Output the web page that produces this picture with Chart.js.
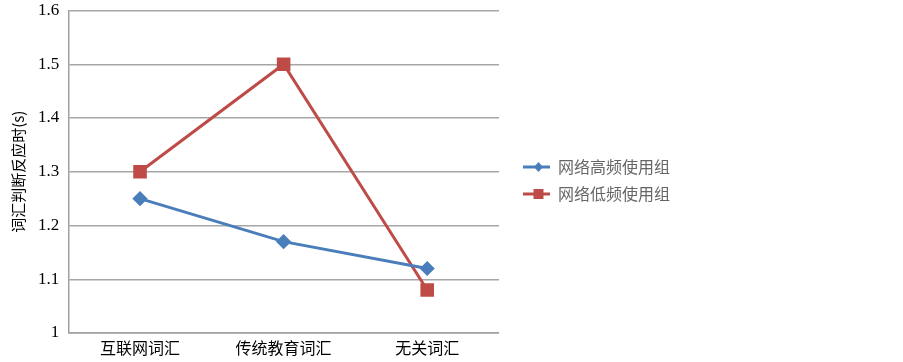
<!DOCTYPE html>
<html><head><meta charset="utf-8">
<script src="https://cdn.jsdelivr.net/npm/chart.js@4/dist/chart.umd.min.js"></script>
<style>html,body{margin:0;padding:0;background:#fff}#wrap{width:903px;height:362px}</style>
</head><body><div id="wrap"><canvas id="c" width="903" height="362"></canvas></div>
<script>
const categories = ['互联网词汇', '传统教育词汇', '无关词汇'];
const seriesNames = ['网络高频使用组', '网络低频使用组'];
const highFreq = [1.25, 1.17, 1.12];
const lowFreq = [1.30, 1.50, 1.08];
const yTicks = [1, 1.1, 1.2, 1.3, 1.4, 1.5, 1.6];

const BLUE = '#4A7EBB', RED = '#BE4B48';
const CJK = '"Noto Sans CJK SC", "Noto Sans", sans-serif';
const SERIF = '"Liberation Serif", "Times New Roman", "DejaVu Serif", serif';

function legendIcon(color, shape) {
  const cv = document.createElement('canvas');
  cv.width = 40; cv.height = 14;
  const g = cv.getContext('2d');
  g.strokeStyle = color; g.lineWidth = 3;
  g.beginPath(); g.moveTo(13, 7); g.lineTo(40, 7); g.stroke();
  g.fillStyle = color;
  const cx = 28.5, cy = 7;
  g.beginPath();
  if (shape === 'diamond') {
    g.moveTo(cx, cy - 5); g.lineTo(cx + 4.5, cy); g.lineTo(cx, cy + 5); g.lineTo(cx - 4.5, cy); g.closePath();
  } else {
    g.rect(cx - 5, cy - 5, 10, 10);
  }
  g.fill();
  return cv;
}
const icons = [legendIcon(BLUE, 'diamond'), legendIcon(RED, 'square')];

new Chart(document.getElementById('c'), {
  type: 'line',
  data: {
    labels: categories,
    datasets: [
      { label: seriesNames[0], data: highFreq, borderColor: BLUE, backgroundColor: BLUE,
        borderWidth: 3, pointStyle: 'rectRot', pointRadius: 5.5, pointHoverRadius: 5.5, tension: 0 },
      { label: seriesNames[1], data: lowFreq, borderColor: RED, backgroundColor: RED,
        borderWidth: 3, pointStyle: 'rect', pointRadius: 7.5, pointHoverRadius: 7.5, tension: 0 }
    ]
  },
  options: {
    responsive: false,
    animation: false,
    layout: { padding: { top: 10, right: 223, left: 3, bottom: 4 } },
    plugins: {
      tooltip: { enabled: false },
      legend: {
        position: 'right',
        align: 'start',
        maxWidth: 300,
        title: { display: true, text: ' ', font: { size: 16, lineHeight: 1.2 }, padding: { top: 118.8, bottom: 0 } },
        labels: {
          usePointStyle: true,
          pointStyleWidth: 40,
          boxHeight: 14,
          padding: 11,
          color: '#000',
          font: { family: CJK, size: 16 },
          generateLabels: (chart) => chart.data.datasets.map((d, i) => ({
            text: d.label, pointStyle: icons[i], datasetIndex: i,
            fillStyle: d.borderColor, strokeStyle: d.borderColor, lineWidth: 0, hidden: false
          }))
        }
      }
    },
    scales: {
      x: {
        offset: true,
        afterFit: (axis) => { axis.height = 25; },
        grid: { display: false, drawTicks: false },
        border: { display: true, color: '#A0A0A0', width: 1.5 },
        ticks: { color: '#000', padding: 9, font: { family: CJK, size: 16, lineHeight: 0.6875 } }
      },
      y: {
        min: 1, max: 1.6,
        afterBuildTicks: (axis) => { axis.ticks = yTicks.map(v => ({ value: v })); },
        afterFit: (axis) => { axis.paddingTop = 0; axis.paddingBottom = 0; },
        grid: { color: '#A6A6A6', lineWidth: 1.5, drawTicks: false },
        border: { display: true, color: '#A0A0A0', width: 1.5 },
        title: { display: true, text: '词汇判断反应时(s)', color: '#000', padding: { top: 6, bottom: 2 },
                 font: { family: CJK, size: 15 } },
        ticks: { color: '#000', padding: 9, font: { family: SERIF, size: 17 },
                 callback: (v) => String(Math.round(v * 10) / 10) }
      }
    }
  }
});
</script></body></html>
